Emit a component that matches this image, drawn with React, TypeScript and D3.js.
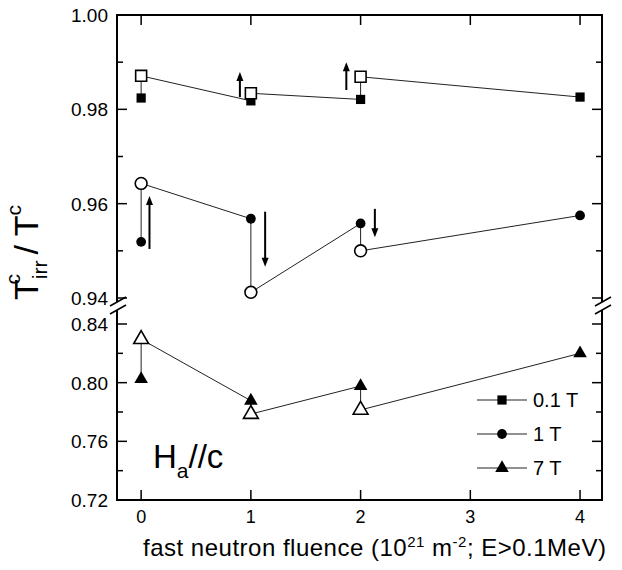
import React, { useEffect, useRef } from "react";
import * as d3 from "d3";

// fast neutron fluence (10^21 m^-2)
const fluence = [0, 1, 2, 4];

// filled = before anneal, open = after (at fluence 0, 1, 2)
const sqFilled = [0.9824, 0.9818, 0.9821, 0.9826];
const sqOpen = [0.9871, 0.9834, 0.9869];
const cirFilled = [0.9519, 0.9568, 0.9558, 0.9575];
const cirOpen = [0.9643, 0.9412, 0.95];
const triFilled = [0.8025, 0.7877, 0.7977, 0.82];
const triOpen = [0.8296, 0.7786, 0.7814];

const legendLabels = ["0.1 T", "1 T", "7 T"];
const xTicks = [0, 1, 2, 3, 4];
const upperTicks = [1.0, 0.99, 0.98, 0.97, 0.96, 0.95, 0.94];
const lowerTicks = [0.84, 0.82, 0.8, 0.78, 0.76, 0.74, 0.72];

// arrows: x position, start value, end value
const arrows = [
  { x: 0.9, from: 0.9826, to: 0.9879 },
  { x: 1.87, from: 0.9841, to: 0.99 },
  { x: 0.076, from: 0.9504, to: 0.9616 },
  { x: 1.13, from: 0.9583, to: 0.9466 },
  { x: 2.13, from: 0.9589, to: 0.9529 },
];

const FONT = "Liberation Sans, Arial, sans-serif";

export default function App() {
  const ref = useRef(null);

  useEffect(() => {
    const svg = d3.select(ref.current);
    svg.selectAll("*").remove();

    const left = 117;
    const right = 602;
    const top = 15;
    const bottom = 500;
    const upperBottom = 302;
    const lowerTop = 310;

    const x = d3.scaleLinear().domain([-0.22, 4.2]).range([left, right]);
    const yUp = d3.scaleLinear().domain([0.94, 1.0]).range([298, top]);
    const yLow = d3.scaleLinear().domain([0.72, 0.84]).range([bottom, 324]);
    const y = (v) => (v > 0.9 ? yUp(v) : yLow(v));

    // frame
    const frame = svg.append("g").attr("stroke", "#000").attr("stroke-width", 2).attr("fill", "none");
    frame.append("line").attr("x1", left).attr("x2", right).attr("y1", top).attr("y2", top);
    frame.append("line").attr("x1", left).attr("x2", right).attr("y1", bottom).attr("y2", bottom);
    [left, right].forEach((xx) => {
      frame.append("line").attr("x1", xx).attr("x2", xx).attr("y1", top - 1).attr("y2", upperBottom);
      frame.append("line").attr("x1", xx).attr("x2", xx).attr("y1", lowerTop).attr("y2", bottom + 1);
      // break marks
      [upperBottom, lowerTop].forEach((by) => {
        frame
          .append("line")
          .attr("x1", xx - 7)
          .attr("y1", by + 4)
          .attr("x2", xx + 9)
          .attr("y2", by - 5)
          .attr("stroke-width", 1.5);
      });
    });

    // y ticks
    const tickG = svg.append("g").attr("stroke", "#000").attr("stroke-width", 1.5);
    const yTickAll = [
      ...upperTicks.map((t, i) => ({ v: t, major: i % 2 === 0 })),
      ...lowerTicks.map((t, i) => ({ v: t, major: i % 2 === 0 })),
    ];
    yTickAll.forEach((t) => {
      const len = t.major ? 10 : 6;
      tickG.append("line").attr("x1", left).attr("x2", left + len).attr("y1", y(t.v)).attr("y2", y(t.v));
      tickG.append("line").attr("x1", right).attr("x2", right - len).attr("y1", y(t.v)).attr("y2", y(t.v));
      if (t.major) {
        svg
          .append("text")
          .attr("x", 108)
          .attr("y", y(t.v) + 7)
          .attr("text-anchor", "end")
          .attr("font-family", FONT)
          .attr("font-size", 19)
          .text(t.v.toFixed(2));
      }
    });

    // x ticks
    xTicks.forEach((t) => {
      tickG.append("line").attr("x1", x(t)).attr("x2", x(t)).attr("y1", bottom).attr("y2", bottom - 10);
      tickG.append("line").attr("x1", x(t)).attr("x2", x(t)).attr("y1", top).attr("y2", top + 10);
      svg
        .append("text")
        .attr("x", x(t))
        .attr("y", 523)
        .attr("text-anchor", "middle")
        .attr("font-family", FONT)
        .attr("font-size", 18)
        .text(t);
    });

    // series
    const series = [
      { filled: sqFilled, open: sqOpen, shape: "square" },
      { filled: cirFilled, open: cirOpen, shape: "circle" },
      { filled: triFilled, open: triOpen, shape: "triangle" },
    ];

    const symbolFor = (shape, open) => {
      if (shape === "square") return d3.symbol(d3.symbolSquare, open ? 120 : 85)();
      if (shape === "circle") return d3.symbol(d3.symbolCircle, open ? 110 : 75)();
      return d3.symbol(d3.symbolTriangle, open ? 95 : 80)();
    };

    const line = d3
      .line()
      .x((d) => x(d[0]))
      .y((d) => y(d[1]));

    series.forEach((s) => {
      const pts = [];
      fluence.forEach((f, i) => {
        pts.push([f, s.filled[i]]);
        if (i < s.open.length) pts.push([f, s.open[i]]);
      });
      svg
        .append("path")
        .attr("d", line(pts))
        .attr("fill", "none")
        .attr("stroke", "#222")
        .attr("stroke-width", 1);
    });

    series.forEach((s) => {
      s.filled.forEach((v, i) => {
        svg
          .append("path")
          .attr("d", symbolFor(s.shape, false))
          .attr("transform", `translate(${x(fluence[i])},${y(v)})`)
          .attr("fill", "#000");
      });
      s.open.forEach((v, i) => {
        svg
          .append("path")
          .attr("d", symbolFor(s.shape, true))
          .attr("transform", `translate(${x(fluence[i])},${y(v)})`)
          .attr("fill", "#fff")
          .attr("stroke", "#000")
          .attr("stroke-width", 1.6);
      });
    });

    // arrows
    arrows.forEach((a) => {
      const y1 = y(a.from);
      const y2 = y(a.to);
      const dir = y2 < y1 ? -1 : 1;
      svg
        .append("line")
        .attr("x1", x(a.x))
        .attr("x2", x(a.x))
        .attr("y1", y1)
        .attr("y2", y2 - dir * 6)
        .attr("stroke", "#000")
        .attr("stroke-width", 2);
      svg
        .append("path")
        .attr(
          "d",
          `M${x(a.x)},${y2} L${x(a.x) - 3.5},${y2 - dir * 9} L${x(a.x) + 3.5},${y2 - dir * 9} Z`
        )
        .attr("fill", "#000");
    });

    // legend
    legendLabels.forEach((lab, i) => {
      const ly = 400 + i * 34;
      svg
        .append("line")
        .attr("x1", 477)
        .attr("x2", 527)
        .attr("y1", ly)
        .attr("y2", ly)
        .attr("stroke", "#222")
        .attr("stroke-width", 1);
      svg
        .append("path")
        .attr("d", symbolFor(series[i].shape, false))
        .attr("transform", `translate(502,${ly})`)
        .attr("fill", "#000");
      svg
        .append("text")
        .attr("x", 533)
        .attr("y", ly + 7)
        .attr("font-family", FONT)
        .attr("font-size", 20)
        .text(lab);
    });

    // H_a//c
    const h = svg
      .append("text")
      .attr("x", 153)
      .attr("y", 468)
      .attr("font-family", FONT)
      .attr("font-size", 33);
    h.append("tspan").text("H");
    h.append("tspan").attr("font-size", 21).attr("dy", 10).text("a");
    h.append("tspan").attr("dy", -10).text("//c");

    // x label
    const xl = svg
      .append("text")
      .attr("x", 143)
      .attr("y", 556)
      .attr("font-family", FONT)
      .attr("font-size", 24)
      .attr("letter-spacing", 0.5);
    xl.append("tspan").text("fast neutron fluence (10");
    xl.append("tspan").attr("font-size", 15).attr("dy", -9).text("21");
    xl.append("tspan").attr("dy", 9).text(" m");
    xl.append("tspan").attr("font-size", 15).attr("dy", -9).text("-2");
    xl.append("tspan").attr("dy", 9).text("; E>0.1MeV)");

    // y label
    const yl = svg
      .append("text")
      .attr("transform", "translate(38,300) rotate(-90)")
      .attr("font-family", FONT)
      .attr("font-size", 34);
    yl.append("tspan").text("T");
    yl.append("tspan").attr("font-size", 21).attr("dy", 9).text("irr");
    yl.append("tspan").attr("font-size", 21).attr("dx", -24).attr("dy", -27).text("c");
    yl.append("tspan").attr("dx", 10).attr("dy", 18).text(" / T");
    yl.append("tspan").attr("font-size", 21).attr("dy", -17).text("c");
  }, []);

  return (
    <svg
      ref={ref}
      width={622}
      height={570}
      style={{ position: "absolute", left: 0, top: 0, background: "#fff" }}
    />
  );
}
